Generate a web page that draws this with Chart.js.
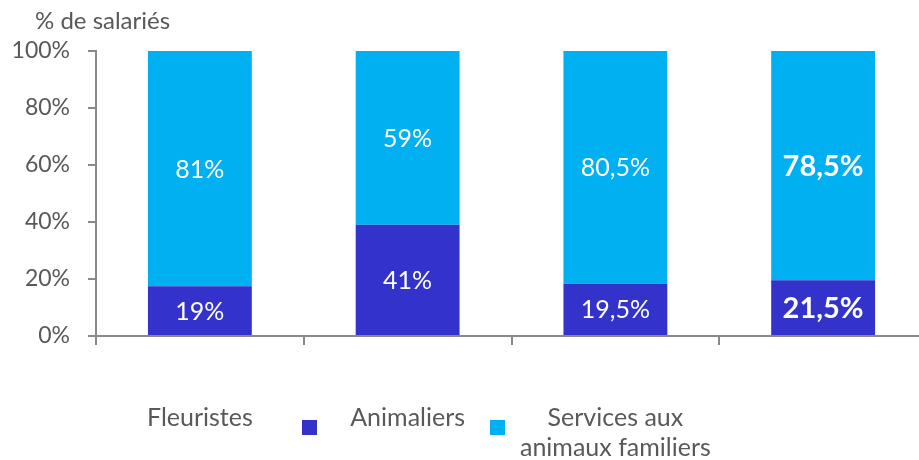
<!DOCTYPE html>
<html>
<head>
<meta charset="utf-8">
<script src="https://cdn.jsdelivr.net/npm/chart.js@4/dist/chart.umd.min.js"></script>
<style>
  body { margin: 0; background: #fff; overflow: hidden; }
  #wrap { position: relative; width: 919px; height: 460px; overflow: hidden; }
  #wrap canvas { position: absolute; left: 0; top: 0; }
  .txt { position: absolute; font-family: Lato, "Noto Sans", sans-serif; color: #595959; }
  .marker { position: absolute; width: 15px; height: 15px; }
</style>
</head>
<body>
<div id="wrap">
  <canvas id="chart" width="930" height="460"></canvas>
  <div class="txt" style="left:35px; top:5px; font-size:24px;">% de salariés</div>
  <div class="marker" id="m0" style="left:302px; top:420px;"></div>
  <div class="marker" id="m1" style="left:490px; top:420px;"></div>
</div>
<script>
// categories (x labels; the 4th bar has no label in the source)
const categories = ['Fleuristes', 'Animaliers', ['Services aux', 'animaux familiers'], ''];
const seriesNames = ['Part 1', 'Part 2'];

// bar heights as drawn (%), and the labels printed on them
const partFoncee = [17.5, 39, 18.3, 19.6];
const partClaire = [82.5, 61, 81.7, 80.4];
const labelsFoncee = ['19%', '41%', '19,5%', '21,5%'];
const labelsClaire = ['81%', '59%', '80,5%', '78,5%'];
const boldBar = [false, false, false, true];

const yTicks = [0, 20, 40, 60, 80, 100];

const colFonce = '#3333CC';
const colClair = '#00B0F0';
const grey = '#898989';
const fontFam = 'Lato, "Noto Sans", sans-serif';

document.getElementById('m0').style.background = colFonce;
document.getElementById('m1').style.background = colClair;

const barLabels = {
  id: 'barLabels',
  afterDatasetsDraw(chart) {
    const ctx = chart.ctx;
    const texts = [labelsFoncee, labelsClaire];
    chart.data.datasets.forEach((ds, di) => {
      const meta = chart.getDatasetMeta(di);
      meta.data.forEach((bar, i) => {
        ctx.save();
        ctx.fillStyle = '#fff';
        ctx.textAlign = 'center';
        ctx.textBaseline = 'middle';
        ctx.font = boldBar[i] ? 'bold 29px ' + fontFam : '25px ' + fontFam;
        ctx.fillText(texts[di][i], bar.x, (bar.y + bar.base) / 2 + 1);
        ctx.restore();
      });
    });
  }
};

new Chart(document.getElementById('chart'), {
  type: 'bar',
  data: {
    labels: categories,
    datasets: [
      { label: seriesNames[0], data: partFoncee, backgroundColor: colFonce, borderWidth: 0 },
      { label: seriesNames[1], data: partClaire, backgroundColor: colClair, borderWidth: 0 }
    ]
  },
  options: {
    responsive: false,
    animation: false,
    layout: { padding: { top: 51, right: 3, left: 0, bottom: 0 } },
    datasets: { bar: { categoryPercentage: 1, barPercentage: 0.5 } },
    plugins: { legend: { display: false }, tooltip: { enabled: false } },
    scales: {
      x: {
        stacked: true,
        offset: true,
        afterFit: (s) => { s.height = 124; },
        grid: { offset: true, drawOnChartArea: false, tickLength: 9, color: grey, lineWidth: 2 },
        border: { color: grey, width: 2 },
        ticks: {
          color: '#595959',
          padding: 58,
          font: { family: fontFam, size: 25, lineHeight: 1.2 },
          maxRotation: 0,
          autoSkip: false
        }
      },
      y: {
        stacked: true,
        min: 0,
        max: 100,
        afterFit: (s) => { s.width = 96; },
        afterBuildTicks: (s) => { s.ticks = yTicks.map(v => ({ value: v })); },
        grid: { drawOnChartArea: false, tickLength: 8, color: grey, lineWidth: 2 },
        border: { color: grey, width: 2 },
        ticks: {
          color: '#595959',
          padding: 18,
          font: { family: fontFam, size: 23 },
          callback: (v) => v + '%'
        }
      }
    }
  },
  plugins: [barLabels]
});
</script>
</body>
</html>
